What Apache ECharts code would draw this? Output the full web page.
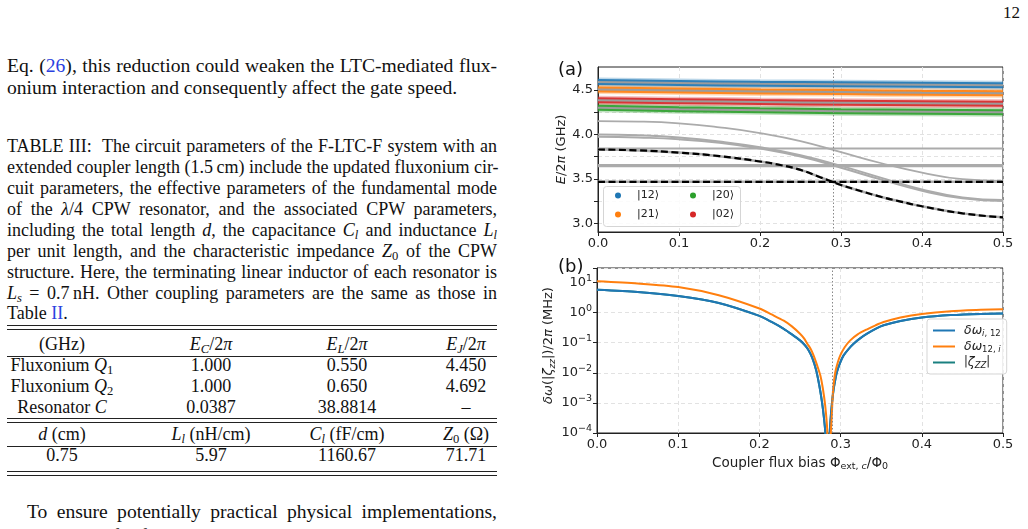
<!DOCTYPE html>
<html>
<head>
<meta charset="utf-8">
<script src="https://cdn.jsdelivr.net/npm/echarts@6/dist/echarts.min.js"></script>
<style>
  body { margin: 0; width: 1028px; height: 529px; overflow: hidden; background: #fff;
         font-family: "Liberation Serif", serif; color: #111; position: relative; }
  .ln { position: absolute; left: 7px; width: 490px; white-space: nowrap; }
  .j { text-align: justify; text-align-last: justify; }
  .body { font-size: 19.6px; line-height: 22px; }
  .cap { font-size: 18px; line-height: 21px; }
  .lk { color: #2a3fe0; }
  sub { font-size: 70%; vertical-align: -0.25em; line-height: 0; }
  .rule { position: absolute; left: 7px; width: 490px; height: 0; border-top: 1.2px solid #222; }
  .row { position: absolute; left: 0; width: 510px; height: 21px; font-size: 18px; line-height: 21px; }
  .row span { position: absolute; transform: translateX(-50%); white-space: nowrap; }
  .c1 { left: 62px; } .c2 { left: 211px; } .c3 { left: 347px; } .c4 { left: 466px; }
  #chart { position: absolute; left: 0; top: 0; width: 1028px; height: 529px; }
</style>
</head>
<body>
<div style="position:absolute;left:1003px;top:3px;font-size:17px;">12</div>

<div class="ln body j" style="top:55px">Eq. (<span class="lk">26</span>), this reduction could weaken the LTC-mediated flux-</div>
<div class="ln body" style="top:77px">onium interaction and consequently affect the gate speed.</div>

<div class="ln cap j" style="top:136px">TABLE III:&nbsp; The circuit parameters of the F-LTC-F system with an</div>
<div class="ln cap j" style="top:157px">extended coupler length (1.5&thinsp;cm) include the updated fluxonium cir-</div>
<div class="ln cap j" style="top:178px">cuit parameters, the effective parameters of the fundamental mode</div>
<div class="ln cap j" style="top:199px">of the <i>λ</i>/4 CPW resonator, and the associated CPW parameters,</div>
<div class="ln cap j" style="top:220px">including the total length <i>d</i>, the capacitance <i>C<sub>l</sub></i> and inductance <i>L<sub>l</sub></i></div>
<div class="ln cap j" style="top:241px">per unit length, and the characteristic impedance <i>Z</i><sub>0</sub> of the CPW</div>
<div class="ln cap j" style="top:262px">structure. Here, the terminating linear inductor of each resonator is</div>
<div class="ln cap j" style="top:283px"><i>L<sub>s</sub></i> = 0.7&thinsp;nH. Other coupling parameters are the same as those in</div>
<div class="ln cap" style="top:303px">Table <span class="lk">II</span>.</div>

<div class="rule" style="top:325px"></div>
<div class="rule" style="top:329px"></div>
<div class="row" style="top:334px"><span class="c1">(GHz)</span><span class="c2"><i>E<sub>C</sub></i>/2<i>π</i></span><span class="c3"><i>E<sub>L</sub></i>/2<i>π</i></span><span class="c4"><i>E<sub>J</sub></i>/2<i>π</i></span></div>
<div class="rule" style="top:356px"></div>
<div class="row" style="top:355px"><span class="c1">Fluxonium <i>Q</i><sub>1</sub></span><span class="c2">1.000</span><span class="c3">0.550</span><span class="c4">4.450</span></div>
<div class="row" style="top:376px"><span class="c1">Fluxonium <i>Q</i><sub>2</sub></span><span class="c2">1.000</span><span class="c3">0.650</span><span class="c4">4.692</span></div>
<div class="row" style="top:397px"><span class="c1">Resonator <i>C</i></span><span class="c2">0.0387</span><span class="c3">38.8814</span><span class="c4">–</span></div>
<div class="rule" style="top:418px"></div>
<div class="rule" style="top:422px"></div>
<div class="row" style="top:424px"><span class="c1"><i>d</i> (cm)</span><span class="c2"><i>L<sub>l</sub></i> (nH/cm)</span><span class="c3"><i>C<sub>l</sub></i> (fF/cm)</span><span class="c4"><i>Z</i><sub>0</sub> (Ω)</span></div>
<div class="rule" style="top:446px"></div>
<div class="row" style="top:445px"><span class="c1">0.75</span><span class="c2">5.97</span><span class="c3">1160.67</span><span class="c4">71.71</span></div>
<div class="rule" style="top:471px"></div>
<div class="rule" style="top:475px"></div>

<div class="ln body j" style="top:501px;text-indent:20px">To ensure potentially practical physical implementations,</div>
<div class="ln body j" style="top:525px">the materials for fluxonium and the coupling circuits should be</div>

<div id="chart"></div>

<script>
// ---- panel (a): energy levels vs coupler flux ----
const fluxA = [0, 0.05, 0.1, 0.15, 0.2, 0.25, 0.3, 0.35, 0.4, 0.45, 0.5];
const fluxBand = [0, 0.1, 0.2, 0.3, 0.4, 0.5];
const band12 = [4.59, 4.58, 4.57, 4.565, 4.56, 4.555];
const band21 = [4.505, 4.495, 4.485, 4.478, 4.47, 4.465];
const band20 = [4.30, 4.285, 4.272, 4.262, 4.255, 4.25];
const band02 = [4.385, 4.375, 4.365, 4.358, 4.352, 4.347];
const grayTop = [4.15, 4.145, 4.125, 4.08, 4.015, 3.925, 3.8, 3.675, 3.57, 3.495, 3.475];
const grayPairA = [4.0, 3.99, 3.965, 3.92, 3.855, 3.765, 3.645, 3.51, 3.38, 3.29, 3.26];
const grayPairB = [3.975, 3.965, 3.945, 3.905, 3.84, 3.75, 3.625, 3.49, 3.365, 3.28, 3.25];
const fluxDashed = [0, 0.05, 0.1, 0.15, 0.2, 0.225, 0.25, 0.275, 0.3, 0.325, 0.35, 0.375, 0.4, 0.45, 0.5];
const dashedCurve = [3.83, 3.82, 3.795, 3.755, 3.695, 3.655, 3.6, 3.515, 3.43, 3.36, 3.295, 3.24, 3.19, 3.11, 3.065];
const flatLevels = [3.84, 3.655, 3.64];
const dashedLevel = 3.466;
const yTicksA = [3.0, 3.25, 3.5, 3.75, 4.0, 4.25, 4.5];
const yLabelsA = [3.0, 3.5, 4.0, 4.5];

// ---- panel (b): frequency shifts (MHz, log axis) ----
const fluxBlue = [0, 0.05, 0.1, 0.15, 0.2, 0.215, 0.23, 0.24, 0.25, 0.255, 0.26, 0.265, 0.27, 0.274, 0.277,
  0.2795, 0.2815, 0.2838, 0.286, 0.2875, 0.2894, 0.2914, 0.2935, 0.2955, 0.2995, 0.3037, 0.31, 0.316,
  0.324, 0.3326, 0.343, 0.353, 0.3737, 0.4, 0.4354, 0.4725, 0.5];
const deltaI12 = [5.8, 4.9, 3.6, 2.1, 0.78, 0.49, 0.29, 0.19, 0.12, 0.089, 0.06, 0.032, 0.012, 0.0035, 0.0011,
  3.2e-4, 8e-5, 1e-6, 5e-5, 2.5e-4, 1e-3, 2.8e-3, 6e-3, 0.0107, 0.022, 0.038, 0.063, 0.093,
  0.14, 0.2, 0.29, 0.38, 0.53, 0.69, 0.83, 0.91, 0.93];
const fluxOrange = [0, 0.05, 0.1, 0.15, 0.2, 0.215, 0.23, 0.24, 0.25, 0.255, 0.259, 0.263, 0.2667, 0.271,
  0.275, 0.278, 0.281, 0.2835, 0.2858, 0.2875, 0.289, 0.2905, 0.292, 0.2935, 0.2965, 0.2996, 0.305,
  0.3119, 0.321, 0.3326, 0.343, 0.353, 0.3737, 0.4, 0.4354, 0.4725, 0.5];
const delta12I = [11, 9.3, 7.1, 3.8, 1.38, 0.87, 0.54, 0.35, 0.2, 0.14, 0.093, 0.063, 0.038, 0.018,
  0.0083, 0.0032, 8.3e-4, 1.3e-4, 1e-6, 6e-5, 3.2e-4, 2.2e-3, 5.6e-3, 0.0107, 0.022, 0.038, 0.071,
  0.12, 0.19, 0.28, 0.38, 0.49, 0.69, 0.91, 1.12, 1.24, 1.31];
// |zeta_zz| lies under the blue curve in the original and is not visible there
const zetaZZ = deltaI12.slice();

const crossFlux = 0.2855;

const zip = (xs, ys) => xs.map((x, i) => [x, ys[i]]);
const flat = (v) => [[0, v], [0.5, v]];

const FONT = "DejaVu Sans";
const GRAY = "#ababab";
const gridLine = { show: true, lineStyle: { color: "#e2e2e2", type: [4, 3], width: 1 } };
const minus = (n) => String(n).replace("-", "−");

const chart = echarts.init(document.getElementById("chart"));

const xAxisCommon = {
  type: "value", min: 0, max: 0.5, interval: 0.1,
  axisLine: { show: true, lineStyle: { color: "#222" } },
  axisTick: { show: true, length: 4, lineStyle: { color: "#222" } },
  axisLabel: { fontFamily: FONT, fontSize: 13, color: "#222", margin: 5, formatter: (v) => v.toFixed(1) },
  splitLine: gridLine,
};

const bandSeries = (name, data, color) => [
  {
    type: "line", xAxisIndex: 0, yAxisIndex: 0, data: zip(fluxBand, data),
    showSymbol: false, smooth: true, z: 1, silent: true,
    lineStyle: { color, width: 9, opacity: 0.3 },
  },
  {
    name, type: "line", xAxisIndex: 0, yAxisIndex: 0, data: zip(fluxBand, data),
    showSymbol: false, symbol: "circle", smooth: true, z: 2,
    itemStyle: { color }, lineStyle: { color, width: 6, opacity: 0.9 },
  },
  {
    type: "line", xAxisIndex: 0, yAxisIndex: 0, data: zip(fluxBand, data),
    showSymbol: false, smooth: true, z: 3, silent: true,
    lineStyle: { color: "#9c9c9c", width: 2 },
  },
];

const grayLine = (data, width) => ({
  type: "line", xAxisIndex: 0, yAxisIndex: 0, data, showSymbol: false, smooth: true, z: 4,
  lineStyle: { color: GRAY, width: width || 2 },
});

const dottedMark = {
  silent: true, symbol: "none", label: { show: false },
  lineStyle: { color: "#888", type: [1.5, 2], width: 1 },
  data: [{ xAxis: crossFlux }],
};

// panel (a) legend is drawn as two columns inside one frame
const stateLegend = (names, left) => ({
  data: names.map((name) => ({ name, icon: "circle" })),
  orient: "vertical", left, top: 190, z: 8,
  itemWidth: 6, itemHeight: 6, itemGap: 8, padding: 0,
  textStyle: { fontFamily: FONT, fontSize: 11, color: "#222", padding: [0, 0, 0, 11] },
});

const option = {
  animation: false,
  textStyle: { fontFamily: FONT },
  grid: [
    { left: 598, top: 67, width: 405, height: 165, show: true, borderColor: "#222", borderWidth: 1, backgroundColor: "transparent" },
    { left: 597, top: 268, width: 406, height: 165, show: true, borderColor: "#222", borderWidth: 1, backgroundColor: "transparent" },
  ],
  xAxis: [
    Object.assign({ gridIndex: 0 }, xAxisCommon),
    Object.assign({ gridIndex: 1 }, xAxisCommon, {
      name: "Coupler flux bias {r|Φ}{s|ext, }{si|c}{r|/Φ}{s|0}",
      nameLocation: "middle", nameGap: 21,
      nameTextStyle: {
        fontFamily: FONT, fontSize: 13.5, color: "#222",
        rich: {
          r: { fontFamily: FONT, fontSize: 13.5, color: "#222", lineHeight: 18 },
          s: { fontFamily: FONT, fontSize: 9.5, color: "#222", lineHeight: 12, verticalAlign: "bottom" },
          si: { fontFamily: FONT, fontSize: 9.5, fontStyle: "italic", color: "#222", lineHeight: 12, verticalAlign: "bottom" },
        },
      },
    }),
  ],
  yAxis: [
    {
      gridIndex: 0, type: "value", min: 2.9, max: 4.76,
      name: "{i|E}/2{i|π} (GHz)", nameLocation: "middle", nameGap: 30, nameRotate: 90,
      nameTextStyle: {
        fontFamily: FONT, fontSize: 13, color: "#222",
        rich: { i: { fontFamily: FONT, fontSize: 13, fontStyle: "italic", color: "#222" } },
      },
      axisLine: { show: true, lineStyle: { color: "#222" } },
      axisTick: { show: true, length: 4, customValues: yTicksA, lineStyle: { color: "#222" } },
      axisLabel: { customValues: yLabelsA, fontFamily: FONT, fontSize: 13, color: "#222", margin: 5, formatter: (v) => v.toFixed(1) },
      splitLine: gridLine,
    },
    {
      gridIndex: 1, type: "log", logBase: 10, min: 1e-4, max: 30.5,
      name: "{i|δω}(|{i|ζ}{s|zz}|)/2{i|π} (MHz)", nameLocation: "middle", nameGap: 36, nameRotate: 90,
      nameTextStyle: {
        fontFamily: FONT, fontSize: 13, color: "#222", padding: [0, 0, 0, 10],
        rich: {
          i: { fontFamily: FONT, fontSize: 13, fontStyle: "italic", color: "#222", lineHeight: 18 },
          s: { fontFamily: FONT, fontSize: 9, fontStyle: "italic", color: "#222", lineHeight: 12, verticalAlign: "bottom" },
        },
      },
      axisLine: { show: true, lineStyle: { color: "#222" } },
      axisTick: { show: true, length: 4, lineStyle: { color: "#222" } },
      axisLabel: {
        fontFamily: FONT, fontSize: 13, color: "#222", margin: 5,
        formatter: (v) => {
          const e = Math.round(Math.log10(v));
          if (Math.abs(Math.log10(v) - e) > 1e-6) return "";
          return "{b|10}{p|" + minus(e) + "}";
        },
        rich: {
          b: { fontFamily: FONT, fontSize: 13, color: "#222", lineHeight: 18 },
          p: { fontFamily: FONT, fontSize: 9.5, color: "#222", lineHeight: 11, verticalAlign: "top" },
        },
      },
      splitLine: gridLine,
    },
  ],
  legend: [
    stateLegend(["|12⟩", "|21⟩"], 615),
    stateLegend(["|20⟩", "|02⟩"], 690),
    {
      data: ["dwi12", "dw12i", "zeta"],
      orient: "vertical", left: 927, top: 319,
      itemWidth: 22, itemHeight: 2, itemGap: 2, icon: "rect",
      padding: [5, 6, 4, 6],
      backgroundColor: "rgba(255,255,255,0.85)", borderColor: "#d5d5d5", borderWidth: 1, borderRadius: 3,
      formatter: (n) => ({
        dwi12: "{i|δω}{s|i}{t|, 12}",
        dw12i: "{i|δω}{t|12, }{s|i}",
        zeta: "|{i|ζ}{s|ZZ}|",
      })[n],
      textStyle: {
        fontFamily: FONT, fontSize: 11.5, color: "#222", padding: [0, 0, 0, 4],
        rich: {
          i: { fontFamily: FONT, fontSize: 12.5, fontStyle: "italic", color: "#222", lineHeight: 15 },
          s: { fontFamily: FONT, fontSize: 8.5, fontStyle: "italic", color: "#222", lineHeight: 9, verticalAlign: "bottom" },
          t: { fontFamily: FONT, fontSize: 8.5, color: "#222", lineHeight: 9, verticalAlign: "bottom" },
        },
      },
    },
  ],
  graphic: [
    { type: "text", left: 558, top: 61, style: { text: "(a)", font: "18px 'DejaVu Sans'", fill: "#111" } },
    { type: "text", left: 558, top: 258, style: { text: "(b)", font: "18px 'DejaVu Sans'", fill: "#111" } },
    {
      type: "rect", left: 603, top: 186, z: 7,
      shape: { width: 137, height: 40, r: 3 },
      style: { fill: "rgba(255,255,255,0.85)", stroke: "#d5d5d5", lineWidth: 1 },
    },
  ],
  series: [
    ...bandSeries("|12⟩", band12, "#1f77b4"),
    ...bandSeries("|21⟩", band21, "#ff7f0e"),
    ...bandSeries("|20⟩", band20, "#2ca02c"),
    ...bandSeries("|02⟩", band02, "#d62728"),
    grayLine(zip(fluxA, grayTop), 1.8),
    grayLine(zip(fluxA, grayPairA), 2),
    grayLine(zip(fluxA, grayPairB), 2),
    ...flatLevels.map((v) => grayLine(flat(v), 2)),
    grayLine(flat(dashedLevel), 2.5),
    grayLine(zip(fluxDashed, dashedCurve), 2.5),
    {
      type: "line", xAxisIndex: 0, yAxisIndex: 0, data: flat(dashedLevel), showSymbol: false, z: 5,
      lineStyle: { color: "#000", width: 2.2, type: [7, 3.5] },
    },
    {
      type: "line", xAxisIndex: 0, yAxisIndex: 0, data: zip(fluxDashed, dashedCurve), showSymbol: false, smooth: true, z: 5,
      lineStyle: { color: "#000", width: 2.2, type: [7, 3.5] },
      markLine: dottedMark,
    },
    // panel (b)
    {
      name: "zeta", type: "line", xAxisIndex: 1, yAxisIndex: 1, data: zip(fluxBlue, zetaZZ),
      showSymbol: false, smooth: 0.25, z: 2, itemStyle: { color: "#1a8080" }, lineStyle: { color: "#1a8080", width: 2 },
    },
    {
      name: "dwi12", type: "line", xAxisIndex: 1, yAxisIndex: 1, data: zip(fluxBlue, deltaI12),
      showSymbol: false, smooth: 0.25, z: 3, itemStyle: { color: "#1f77b4" }, lineStyle: { color: "#1f77b4", width: 2 },
    },
    {
      name: "dw12i", type: "line", xAxisIndex: 1, yAxisIndex: 1, data: zip(fluxOrange, delta12I),
      showSymbol: false, smooth: 0.25, z: 4, itemStyle: { color: "#ff7f0e" }, lineStyle: { color: "#ff7f0e", width: 2 },
      markLine: dottedMark,
    },
  ],
};

chart.setOption(option);
</script>
</body>
</html>
